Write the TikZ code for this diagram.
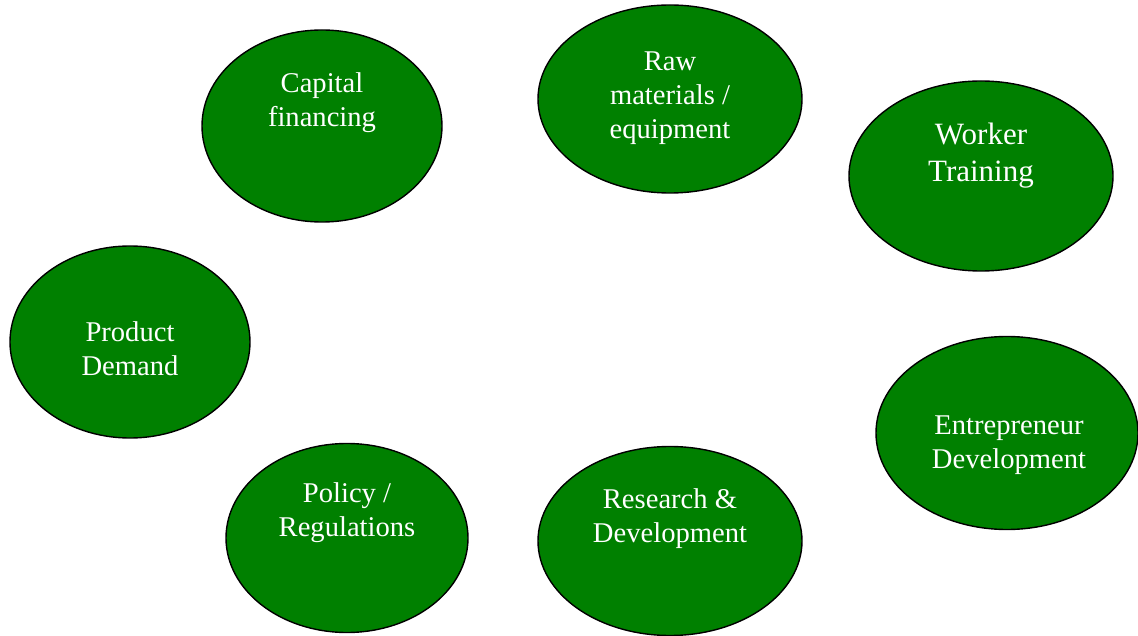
\documentclass[tikz,border=0pt]{standalone}
\usepackage{fontspec}
\setmainfont{Liberation Serif}
\usetikzlibrary{shapes.geometric}
\definecolor{leafgreen}{RGB}{0,128,0}
\tikzstyle{factor} = [ellipse,draw=black,line width=1.4pt,fill=leafgreen,inner sep=0pt]
\tikzstyle{flabel} = [text=white,align=center,font=\fontsize{28.6}{34}\selectfont]
\tikzstyle{blabel} = [text=white,align=center,font=\fontsize{31}{37}\selectfont]

\begin{document}
\begin{tikzpicture}[x=1pt,y=-1pt]
  \useasboundingbox (0,0) rectangle (1138,636);
  % Ellipses
  \node[factor,minimum width=240pt,minimum height=192pt] (capital) at (322,126) {};
  \node[factor,minimum width=264pt,minimum height=188pt] (raw) at (670,99) {};
  \node[factor,minimum width=264pt,minimum height=190pt] (worker) at (981,176) {};
  \node[factor,minimum width=240pt,minimum height=192pt] (demand) at (130,342) {};
  \node[factor,minimum width=262pt,minimum height=193pt] (entre) at (1007,433) {};
  \node[factor,minimum width=242pt,minimum height=189pt] (policy) at (347,538) {};
  \node[factor,minimum width=264pt,minimum height=189pt] (research) at (670,541) {};
  % Labels
  \node[flabel] (capital-txt) at (322,103) {Capital\\financing};
  \node[flabel] (raw-txt) at (670,98) {Raw\\materials /\\equipment};
  \node[blabel] (worker-txt) at (981,156) {Worker\\Training};
  \node[flabel] (demand-txt) at (130,349) {Product\\Demand};
  \node[flabel] (entre-txt) at (1009,445) {Entrepreneur\\Development};
  \node[flabel] (policy-txt) at (347,513) {Policy /\\Regulations};
  \node[flabel] (research-txt) at (670,519) {Research \&\\Development};
\end{tikzpicture}
\end{document}
